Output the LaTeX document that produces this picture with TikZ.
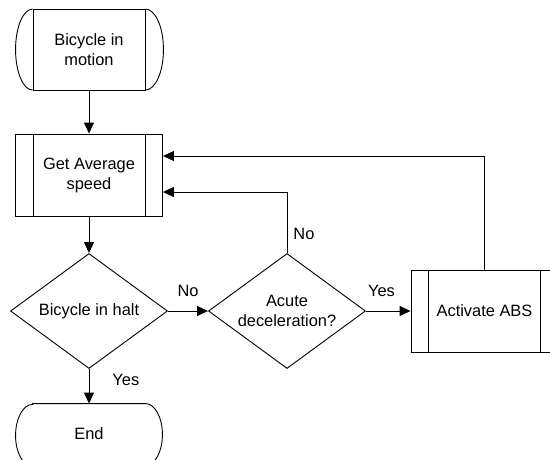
\documentclass[tikz,border=0pt]{standalone}
\usepackage{fontspec}
\setmainfont{Liberation Sans}
\usepackage{tikz}
\usetikzlibrary{shapes.geometric}
\usetikzlibrary{arrows.meta}
\tikzset{>={Triangle[width=10pt,length=11pt]}}
\tikzset{
  subproc/.style={draw, rectangle, minimum width=147pt, minimum height=82pt,
    align=center, path picture={
      \draw ([xshift=17.5pt]path picture bounding box.north west)
        -- ([xshift=17.5pt]path picture bounding box.south west);
      \draw ([xshift=-17.5pt]path picture bounding box.north east)
        -- ([xshift=-17.5pt]path picture bounding box.south east);}},
  decide/.style={draw, diamond, aspect=1.365, minimum width=157pt,
    minimum height=115pt, inner sep=0pt, align=center},
  termbox/.style={rectangle, minimum width=112pt, inner sep=0pt, align=center},
  lbl/.style={inner sep=2pt}
}

\begin{document}
\begin{tikzpicture}[x=1pt, y=-1pt, line width=0.9pt,
  font=\fontsize{16.4pt}{20pt}\selectfont]

\clip (0,0) rectangle (550,459); %% page size

\node[termbox, draw, minimum height=81pt] (start) at (89,50) {Bicycle in\\motion};
\draw (start.north west) arc[start angle=90, end angle=270, x radius=17pt, y radius=40.5pt];
\draw (start.north east) arc[start angle=90, end angle=-90, x radius=18pt, y radius=40.5pt];

\node[subproc] (avg) at (89,175) {Get Average\\speed};
\node[decide] (halt) at (89,311) {Bicycle in halt};
\node[decide] (acute) at (287,311) {Acute\\deceleration?};
\node[subproc] (abs) at (484.5,311) {Activate ABS};

\node[termbox, minimum height=62pt] (end) at (89,435) {\raisebox{2pt}{End}};
\draw (end.north west) -- (end.north east)
  arc[start angle=90, end angle=-90, x radius=17pt, y radius=31pt]
  -- (end.south west)
  arc[start angle=270, end angle=90, x radius=17pt, y radius=31pt] -- cycle;

%% main flow
\draw[->] (start) -- (avg);
\draw[->] (avg) -- (halt);
\draw[->] (halt) -- node[lbl, above=12pt]{No} (acute);
\draw[->] (halt) -- node[lbl, pos=0.33, right=21pt]{Yes} (end);
\draw[->] (acute) -- node[lbl, pos=0.35, above=12pt]{Yes} (abs);

%% loops back
\draw[->] (acute.north) node[lbl, anchor=south west, xshift=4pt, yshift=11pt]{No}
  |- ([yshift=-17pt]avg.east);
\draw[->] (abs.north) |- ([yshift=19pt]avg.east);

\end{tikzpicture}
\end{document}
